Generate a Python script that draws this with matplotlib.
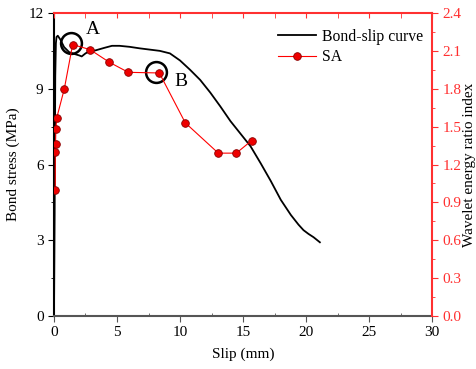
import matplotlib
matplotlib.use('Agg')
import matplotlib.pyplot as plt
from matplotlib.ticker import MultipleLocator

plt.rcParams['font.family'] = ['Liberation Serif', 'DejaVu Serif']
plt.rcParams['font.size'] = 11

# bond-slip curve (slip mm, stress MPa)
slip = [0, 0.05, 0.1, 0.15, 0.2, 0.3, 0.5, 0.8, 1.2, 1.6, 2.0, 2.2, 2.5, 2.8, 3.3, 4.0,
        4.6, 5.2, 6.0, 6.8, 7.6, 8.4, 9.2, 10.0, 10.8, 11.6, 12.4, 13.2, 14.0, 14.8,
        15.6, 16.4, 17.2, 18.0, 18.8, 19.4, 19.8, 20.2, 20.6, 21.1]
stress = [0, 4.0, 9.5, 10.8, 11.05, 11.1, 10.95, 10.65, 10.45, 10.38, 10.32, 10.28, 10.4,
          10.48, 10.52, 10.62, 10.7, 10.7, 10.66, 10.6, 10.55, 10.5, 10.4, 10.12, 9.75,
          9.35, 8.85, 8.3, 7.72, 7.22, 6.72, 6.05, 5.35, 4.6, 4.0, 3.62, 3.4, 3.25, 3.12, 2.92]

# SA wavelet energy ratio index
sa_slip = [0.1, 0.1, 0.12, 0.15, 0.22, 0.82, 1.48, 2.86, 4.39, 5.9, 8.36, 10.42,
           13.04, 14.47, 15.69]
sa_val = [1.0, 1.30, 1.36, 1.48, 1.57, 1.80, 2.15, 2.11, 2.01, 1.93, 1.925, 1.53,
          1.29, 1.29, 1.39]

# marked points A and B (slip, stress)
mark_x = [1.35, 8.1]
mark_y = [10.83, 9.66]
mark_lbl = ['A', 'B']
lbl_x = [3.1, 10.1]
lbl_y = [11.35, 9.3]

fig = plt.figure(figsize=(4.77, 3.69), dpi=100)
ax = fig.add_axes([0.1132, 0.1436, 0.7925, 0.8212])
ax2 = ax.twinx()

l1, = ax.plot(slip, stress, color='black', lw=1.3, label='Bond-slip curve')
l2, = ax2.plot(sa_slip, sa_val, '-o', color='#ff0000', lw=0.8, ms=5.5,
               mfc='#ee0000', mec='#880000', mew=0.6, label='SA')

ax.plot(mark_x, mark_y, 'o', ms=15, mfc='none', mec='black', mew=1.8)
for x, y, t in zip(lbl_x, lbl_y, mark_lbl):
    ax.text(x, y, t, fontsize=14, ha='center', va='center')

ax.set_xlim(0, 30)
ax.set_ylim(0, 12)
ax2.set_ylim(0, 2.4)
ax.xaxis.set_major_locator(MultipleLocator(5))
ax.xaxis.set_minor_locator(MultipleLocator(2.5))
ax.yaxis.set_major_locator(MultipleLocator(3))
ax.yaxis.set_minor_locator(MultipleLocator(1.5))
ax2.yaxis.set_major_locator(MultipleLocator(0.3))
ax2.yaxis.set_minor_locator(MultipleLocator(0.15))
ax2.yaxis.set_major_formatter(plt.FormatStrFormatter('%.1f'))

ax.spines['top'].set_visible(False)
ax.spines['right'].set_visible(False)
ax.spines['bottom'].set_color('#555555')
ax.spines['bottom'].set_linewidth(1.5)
ax.spines['left'].set_linewidth(1.5)
ax2.spines['left'].set_visible(False)
ax2.spines['bottom'].set_visible(False)
ax2.spines['right'].set_color('#ff3030')
ax2.spines['top'].set_color('#ff3030')
ax2.spines['right'].set_linewidth(1.5)
ax2.spines['top'].set_linewidth(1.5)

ax.tick_params(axis='x', which='major', direction='out', length=4, color='#555555')
ax.tick_params(axis='x', which='minor', direction='in', length=2.5, color='#555555')
ax.tick_params(axis='y', which='major', direction='out', length=4)
ax.tick_params(axis='y', which='minor', direction='out', length=2.5)
ax2.tick_params(axis='y', which='major', direction='out', length=4, color='#ff3030',
                labelcolor='#ff3030')
ax2.tick_params(axis='y', which='minor', direction='out', length=2.5, color='#ff3030')
ax2.xaxis.set_visible(True)
ax2.tick_params(axis='x', which='both', bottom=False, top=True, labelbottom=False,
                labeltop=False, direction='in', length=3.5, color='#ff3030')

ax.set_xlabel('Slip (mm)', labelpad=6)
ax.set_ylabel('Bond stress (MPa)', labelpad=6)
ax2.set_ylabel('Wavelet energy ratio index', labelpad=1)

ax.legend([l1, l2], ['Bond-slip curve', 'SA'], loc='upper right', frameon=False,
          bbox_to_anchor=(1.015, 0.995), handlelength=2.4, labelspacing=0.3,
          handletextpad=0.4, fontsize=11.3)

fig.savefig('out.png', dpi=100)
